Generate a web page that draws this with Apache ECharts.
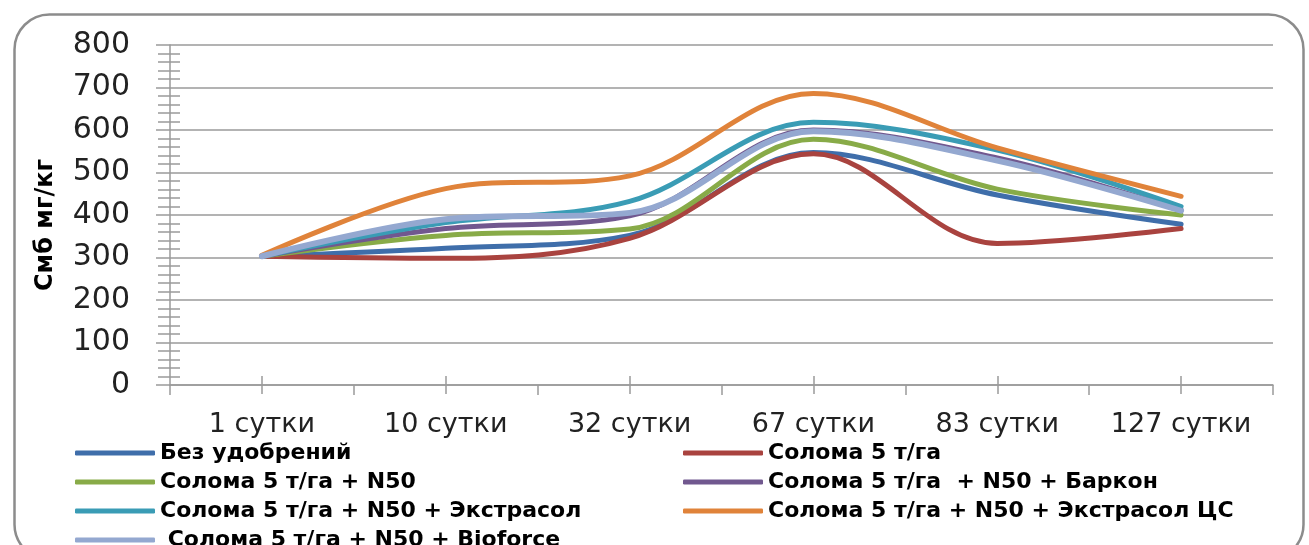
<!DOCTYPE html>
<html><head><meta charset="utf-8">
<script src="https://cdn.jsdelivr.net/npm/echarts@6/dist/echarts.min.js"></script>
<style>html,body{margin:0;padding:0;background:#fff}#c{width:1309px;height:545px}</style>
</head><body><div id="c"></div>
<script>
const categories = ['1 сутки', '10 сутки', '32 сутки', '67 сутки', '83 сутки', '127 сутки'];
const seriesNames = [
  'Без удобрений',
  'Солома 5 т/га',
  'Солома 5 т/га + N50',
  'Солома 5 т/га  + N50 + Баркон',
  'Солома 5 т/га + N50 + Экстрасол',
  'Солома 5 т/га + N50 + Экстрасол ЦС',
  ' Солома 5 т/га + N50 + Bioforce'
];
const bezUdobreniy   = [303, 322, 352, 547, 447, 378];
const soloma         = [303, 298, 345, 544, 333, 368];
const solomaN50      = [303, 352, 367, 578, 461, 400];
const solomaBarkon   = [303, 368, 398, 600, 534, 412];
const solomaEkstr    = [303, 382, 432, 618, 553, 420];
const solomaEkstrCS  = [305, 462, 492, 686, 558, 444];
const solomaBioforce = [303, 390, 405, 597, 528, 410];
const yTicks = [0, 100, 200, 300, 400, 500, 600, 700, 800];
const yTitle = 'Смб мг/кг';

const colors = ['#3F6EAA', '#A9433F', '#88AB48', '#71588F', '#3A9CB5', '#E0833A', '#94A8D0'];
const values = [bezUdobreniy, soloma, solomaN50, solomaBarkon, solomaEkstr, solomaEkstrCS, solomaBioforce];

const gray = '#9a9a9a';
const legendText = {fontFamily: 'DejaVu Sans', fontSize: 22, fontWeight: 'bold', color: '#000', lineHeight: 22};
const chart = echarts.init(document.getElementById('c'), null, {renderer: 'canvas'});
chart.setOption({
  animation: false,
  backgroundColor: '#fff',
  graphic: [{
    type: 'rect', left: 12, top: 12, z: -10,
    shape: {width: 1289, height: 545, r: 35},
    style: {fill: 'none', stroke: '#8c8c8c', lineWidth: 2.5}
  }, {
    type: 'text', x: 46, y: 225, rotation: Math.PI / 2,
    style: {text: yTitle, fontFamily: 'DejaVu Sans', fontSize: 24, fontWeight: 'bold', fill: '#000',
            align: 'center', verticalAlign: 'middle'}
  }],
  grid: {left: 170, right: 36, top: 45, bottom: 160, containLabel: false},
  legend: [{
    data: [seriesNames[0], seriesNames[2], seriesNames[4], seriesNames[6]],
    orient: 'vertical', left: 75, top: 442, height: 200, padding: 0,
    icon: 'roundRect', itemWidth: 80, itemHeight: 5, itemGap: 7,
    textStyle: legendText
  }, {
    data: [seriesNames[1], seriesNames[3], seriesNames[5]],
    orient: 'vertical', left: 683, top: 442, height: 200, padding: 0,
    icon: 'roundRect', itemWidth: 80, itemHeight: 5, itemGap: 7,
    textStyle: legendText
  }],
  xAxis: [{
    type: 'category', data: categories, boundaryGap: true, position: 'bottom',
    axisLine: {show: false}, axisTick: {show: false}, splitLine: {show: false},
    axisLabel: {interval: 0, fontFamily: 'DejaVu Sans', fontSize: 27, color: '#222', margin: 26}
  }, {
    type: 'value', min: 0, max: 6, interval: 1, position: 'bottom',
    axisLine: {show: true, lineStyle: {color: gray, width: 1.5}},
    axisTick: {show: true, length: 10, lineStyle: {color: gray, width: 1.5}},
    minorTick: {show: true, splitNumber: 2, length: 9, lineStyle: {color: gray, width: 1.5}},
    axisLabel: {show: false}, splitLine: {show: false}
  }, {
    type: 'value', min: 0, max: 6, interval: 1, position: 'bottom',
    axisLine: {show: false},
    axisTick: {show: false, inside: true},
    minorTick: {show: true, splitNumber: 2, length: 9, lineStyle: {color: gray, width: 1.5}},
    axisLabel: {show: false}, splitLine: {show: false}
  }],
  yAxis: [{
    type: 'value', min: yTicks[0], max: yTicks[yTicks.length - 1], interval: 100, position: 'left',
    axisLine: {show: true, lineStyle: {color: gray, width: 1.5}},
    axisTick: {show: true, length: 14, lineStyle: {color: gray, width: 1.5}},
    minorTick: {show: true, splitNumber: 5, length: 12, lineStyle: {color: gray, width: 1.5}},
    splitLine: {show: true, lineStyle: {color: gray, width: 1.5}},
    axisLabel: {fontFamily: 'DejaVu Sans', fontSize: 30, color: '#222', margin: 40}
  }, {
    type: 'value', min: yTicks[0], max: yTicks[yTicks.length - 1], interval: 100, position: 'left',
    axisLine: {show: false},
    axisTick: {show: false, inside: true},
    minorTick: {show: true, splitNumber: 5, length: 10, lineStyle: {color: gray, width: 1.5}},
    splitLine: {show: false}, axisLabel: {show: false}
  }],
  series: seriesNames.map((n, i) => ({
    name: n, type: 'line', xAxisIndex: 0, yAxisIndex: 0,
    data: values[i], smooth: 0.35, symbol: 'none',
    color: colors[i],
    lineStyle: {color: colors[i], width: i === 6 ? 6 : 5, cap: 'round', join: 'round'},
    z: 2 + i
  }))
});
</script></body></html>
